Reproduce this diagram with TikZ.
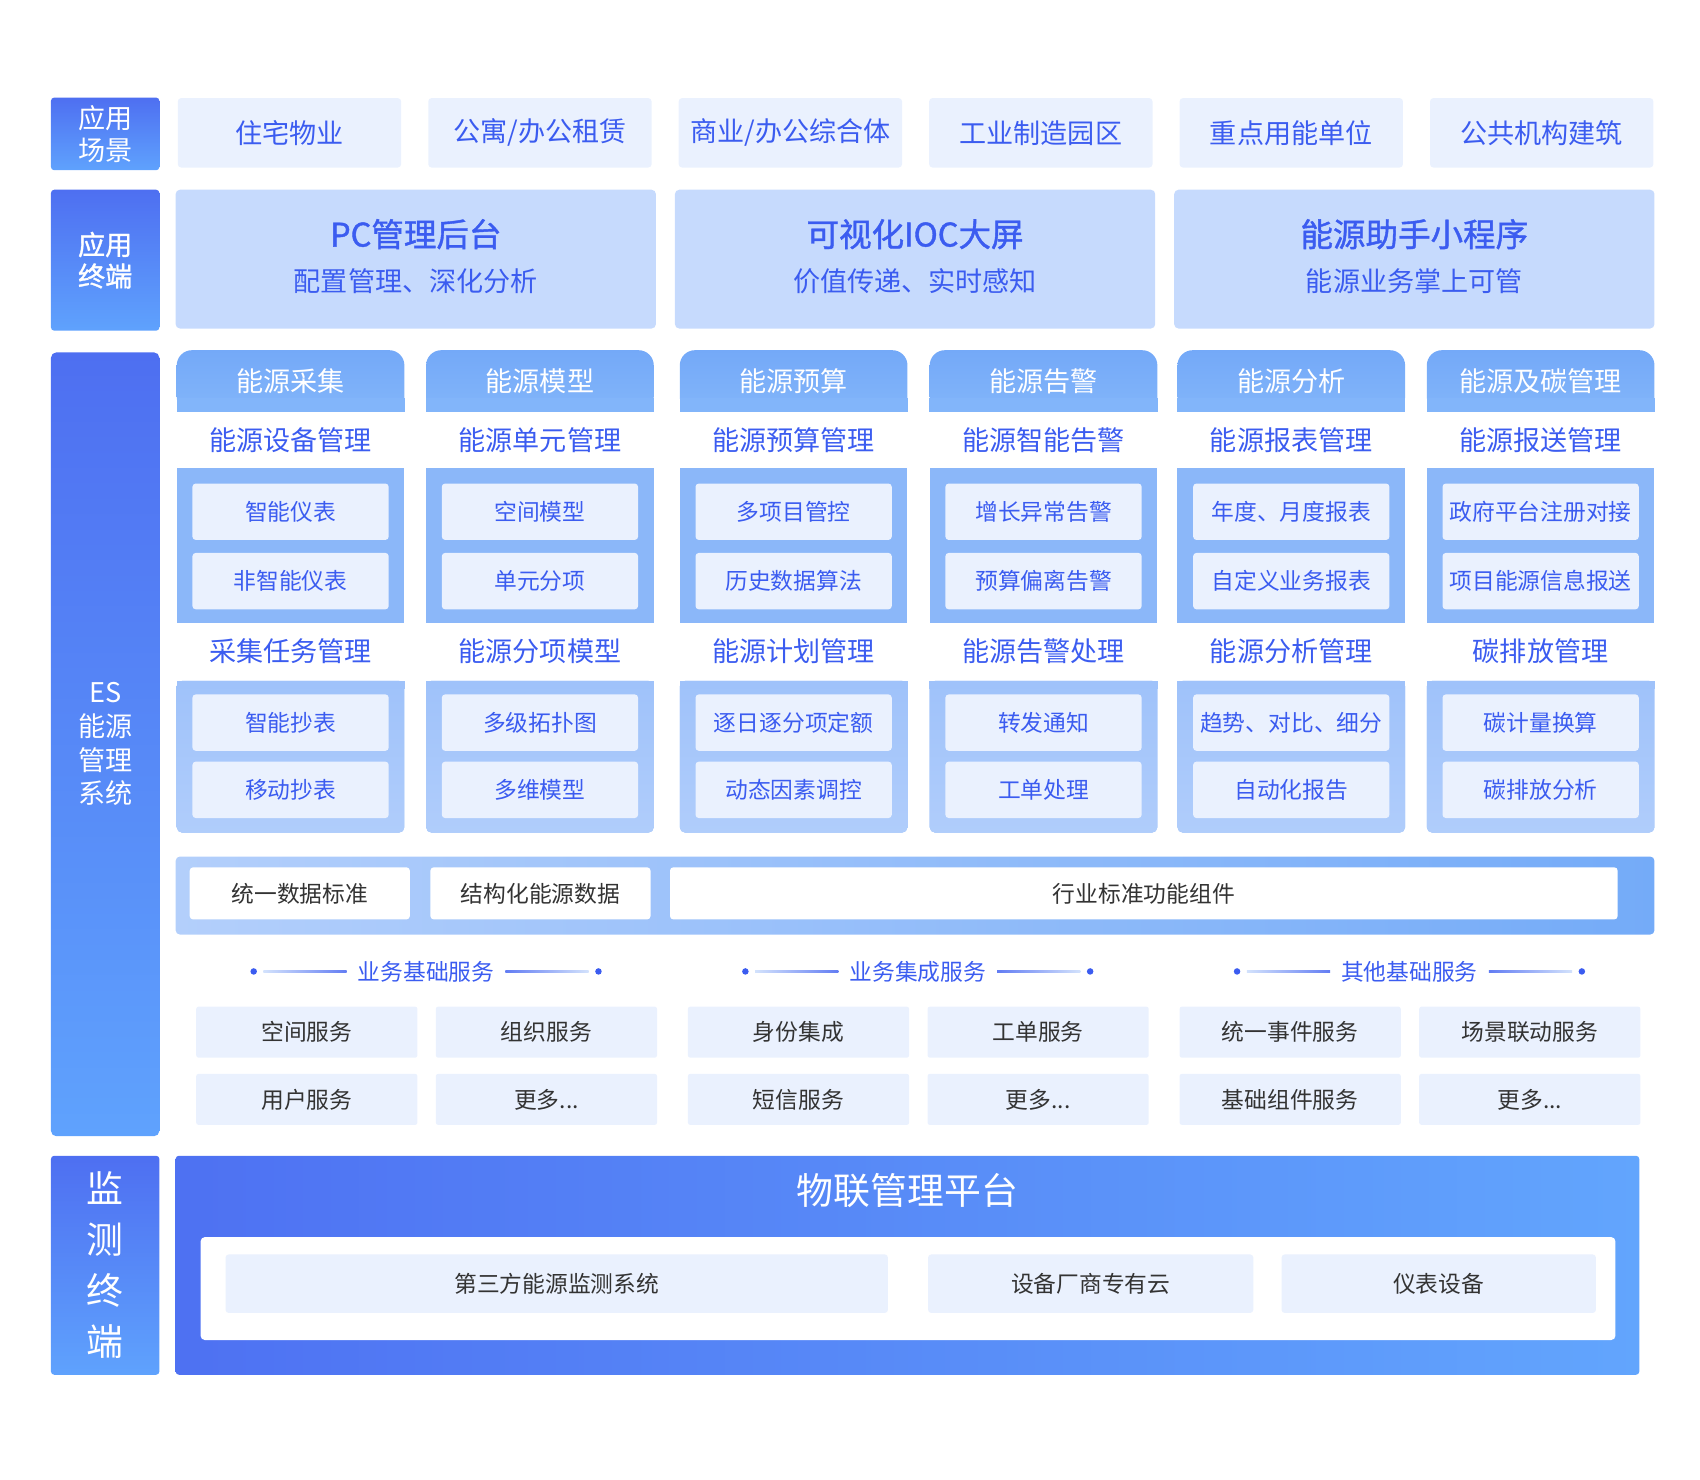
\documentclass[tikz,border=0pt]{standalone}
\usepackage{fontspec}
\setmainfont{Noto Sans CJK SC}
\newfontfamily\titlefont[FakeBold=1.2]{Noto Sans CJK SC}
\usetikzlibrary{positioning}

\definecolor{sideA}{HTML}{4E6FF1}
\definecolor{sideB}{HTML}{5FA2FD}
\definecolor{textblue}{HTML}{3B5CF0}
\definecolor{paleblue}{HTML}{EAF1FE}
\definecolor{termblue}{HTML}{C6DAFD}
\definecolor{headA}{HTML}{74A9F8}
\definecolor{headB}{HTML}{82B5FA}
\definecolor{panelA}{HTML}{8BB7F9}
\definecolor{panelB}{HTML}{9FC2FA}
\definecolor{panelC}{HTML}{B0CDFB}
\definecolor{dataA}{HTML}{B3CFFB}
\definecolor{dataB}{HTML}{74ABF8}
\definecolor{darktext}{HTML}{333333}
\definecolor{iotA}{HTML}{4E71F2}
\definecolor{iotB}{HTML}{62A5FD}
\definecolor{linepale}{HTML}{D3E2FC}

\newcommand{\fsz}[2]{\fontsize{#1}{#2}\selectfont}
\newcommand{\moretext}{更多...}

\begin{document}
\begin{tikzpicture}[x=1pt, y=-1pt,
    % Define styles
    sidebox/.style={rectangle, rounded corners=3pt, top color=sideA, bottom color=sideB, text=white, align=center, inner sep=0pt, minimum width=100pt, font=\fsz{25}{29}},
    scene/.style={rectangle, rounded corners=3pt, fill=paleblue, text=textblue, minimum width=206pt, minimum height=64pt, inner sep=0pt, font=\fsz{25}{30}},
    terminal/.style={rectangle, rounded corners=4pt, fill=termblue, minimum width=443pt, minimum height=128pt, inner sep=0pt},
    termtitle/.style={text=textblue, inner sep=0pt, font=\titlefont\fsz{30}{34}},
    termsub/.style={text=textblue, inner sep=0pt, font=\fsz{25}{30}},
    colhead/.style={rectangle, rounded corners=14pt, top color=headA, bottom color=headB, text=white, minimum width=210pt, minimum height=57pt, inner sep=0pt, font=\fsz{25}{30}},
    colsub/.style={text=textblue, inner sep=0pt, font=\fsz{25}{30}},
    panel/.style={rectangle, fill=panelA, minimum width=210pt, inner sep=0pt},
    item/.style={rectangle, rounded corners=3pt, fill=paleblue, text=textblue, minimum width=181pt, minimum height=52pt, inner sep=0pt, font=\fsz{21}{25}},
    databox/.style={rectangle, rounded corners=3pt, fill=white, text=darktext, minimum height=48pt, inner sep=0pt, font=\fsz{21}{25}},
    grouphead/.style={text=textblue, inner sep=0pt, font=\fsz{21}{25}},
    sdot/.style={circle, fill=textblue, inner sep=0pt, minimum size=6pt},
    service/.style={rectangle, rounded corners=2pt, fill=paleblue, text=darktext, minimum width=204pt, minimum height=47pt, inner sep=0pt, font=\fsz{21}{25}},
    device/.style={rectangle, rounded corners=3pt, fill=paleblue, text=darktext, minimum height=54pt, inner sep=0pt, font=\fsz{21}{25}}
  ]

  \useasboundingbox (0,0) rectangle (1568,1365);

  % Side labels
  \node[sidebox, minimum height=67pt] (side-scene) at (97,123.5) {应用\\场景};
  \node[sidebox, minimum height=130pt, font=\titlefont\fsz{25}{29}] (side-term) at (97,240) {应用\\终端};
  \node[sidebox, minimum height=723pt, rounded corners=5pt, font=\fsz{25}{31}] (side-es) at (97,686.5) {ES\\能源\\管理\\系统};
  \node[sidebox, minimum height=202pt, font=\fsz{34}{47}] (side-iot) at (97,1167) {监\\测\\终\\端};

  % Application scenes
  \foreach \i/\t in {0/住宅物业, 1/{公寓/办公租赁}, 2/{商业/办公综合体}, 3/工业制造园区, 4/重点用能单位, 5/公共机构建筑}{
    \node[scene] (scene\i) at (267+231*\i,122.5) {\t};
  }

  % Application terminals
  \foreach \i/\ti/\su in {0/PC管理后台/配置管理、深化分析, 1/可视化IOC大屏/价值传递、实时感知, 2/能源助手小程序/能源业务掌上可管}{
    \node[terminal] (term\i) at (383.5+460.5*\i,239) {};
    \node[termtitle] (term\i-title) at ([yshift=23pt]term\i.center) {\ti};
    \node[termsub] (term\i-sub) at ([yshift=-20pt]term\i.center) {\su};
  }

  % ES columns
  \foreach \i/\cx/\hd/\sa/\ta/\tb/\sb/\tc/\td in {
    0/268/能源采集/能源设备管理/智能仪表/非智能仪表/采集任务管理/智能抄表/移动抄表,
    1/498/能源模型/能源单元管理/空间模型/单元分项/能源分项模型/多级拓扑图/多维模型,
    2/732/能源预算/能源预算管理/多项目管控/历史数据算法/能源计划管理/逐日逐分项定额/动态因素调控,
    3/962.5/能源告警/能源智能告警/增长异常告警/预算偏离告警/能源告警处理/转发通知/工单处理,
    4/1191/能源分析/能源报表管理/年度、月度报表/自定义业务报表/能源分析管理/趋势、对比、细分/自动化报告,
    5/1421/能源及碳管理/能源报送管理/政府平台注册对接/项目能源信息报送/碳排放管理/碳计量换算/碳排放分析}{
    \node[colhead] (col\i-head) at (\cx,351.5) {\hd};
    \fill[headB] ([yshift=13pt]col\i-head.south west) rectangle (col\i-head.south east);
    \node[panel, minimum height=143pt] (col\i-pa) at (\cx,503.5) {};
    \node[panel, minimum height=140pt, rounded corners=5pt, top color=panelB, bottom color=panelC] (col\i-pb) at (\cx,698) {};
    \fill[panelB] (col\i-pb.north west) rectangle ([yshift=-8pt]col\i-pb.north east);
    \node[colsub] (col\i-suba) at (\cx,406) {\sa};
    \node[colsub] (col\i-subb) at (\cx,601) {\sb};
    \node[item] (col\i-a) at (\cx,472) {\ta};
    \node[item] (col\i-b) at (\cx,536) {\tb};
    \node[item] (col\i-c) at (\cx,666.5) {\tc};
    \node[item] (col\i-d) at (\cx,728.5) {\td};
  }

  % Data layer
  \node[rectangle, rounded corners=4pt, left color=dataA, right color=dataB, minimum width=1364pt, minimum height=72pt] (data) at (844,826) {};
  \node[databox, minimum width=203pt] (data-std) at (276.5,824) {统一数据标准};
  \node[databox, minimum width=203pt] (data-struct) at (498.5,824) {结构化能源数据};
  \node[databox, minimum width=874pt] (data-comp) at (1055,824) {行业标准功能组件};

  % Services
  \foreach \g/\hd/\sa/\sb/\sc/\sd [evaluate=\g as \gx using 393+453.5*\g] in {
    0/业务基础服务/空间服务/组织服务/用户服务/\moretext,
    1/业务集成服务/身份集成/工单服务/短信服务/\moretext,
    2/其他基础服务/统一事件服务/场景联动服务/基础组件服务/\moretext}{
    \node[grouphead] (grp\g) at (\gx,896) {\hd};
    \node[sdot] (grp\g-l) at (\gx-159,896) {};
    \node[sdot] (grp\g-r) at (\gx+159,896) {};
    \shade[left color=linepale, right color=textblue!80] ([xshift=9pt,yshift=0.8pt]grp\g-l.center) rectangle ([xshift=-10pt,yshift=-0.8pt]grp\g.west);
    \shade[left color=textblue!80, right color=linepale] ([xshift=10pt,yshift=0.8pt]grp\g.east) rectangle ([xshift=-9pt,yshift=-0.8pt]grp\g-r.center);
    \node[service] (grp\g-a) at (\gx-110,952) {\sa};
    \node[service] (grp\g-b) at (\gx+111,952) {\sb};
    \node[service] (grp\g-c) at (\gx-110,1014) {\sc};
    \node[service] (grp\g-d) at (\gx+111,1014) {\sd};
  }

  % IoT platform
  \node[rectangle, rounded corners=3pt, left color=iotA, right color=iotB, minimum width=1350pt, minimum height=202pt] (iot) at (837,1167) {};
  \node[text=white, inner sep=0pt, font=\fsz{34}{40}] (iot-title) at (837,1098) {物联管理平台};
  \node[rectangle, rounded corners=4pt, fill=white, minimum width=1305pt, minimum height=95pt] (iot-inner) at (837.5,1188.5) {};
  \node[device, minimum width=611pt] (dev-third) at (513.5,1184) {第三方能源监测系统};
  \node[device, minimum width=300pt] (dev-cloud) at (1006,1184) {设备厂商专有云};
  \node[device, minimum width=290pt] (dev-meter) at (1327,1184) {仪表设备};

\end{tikzpicture}
\end{document}
